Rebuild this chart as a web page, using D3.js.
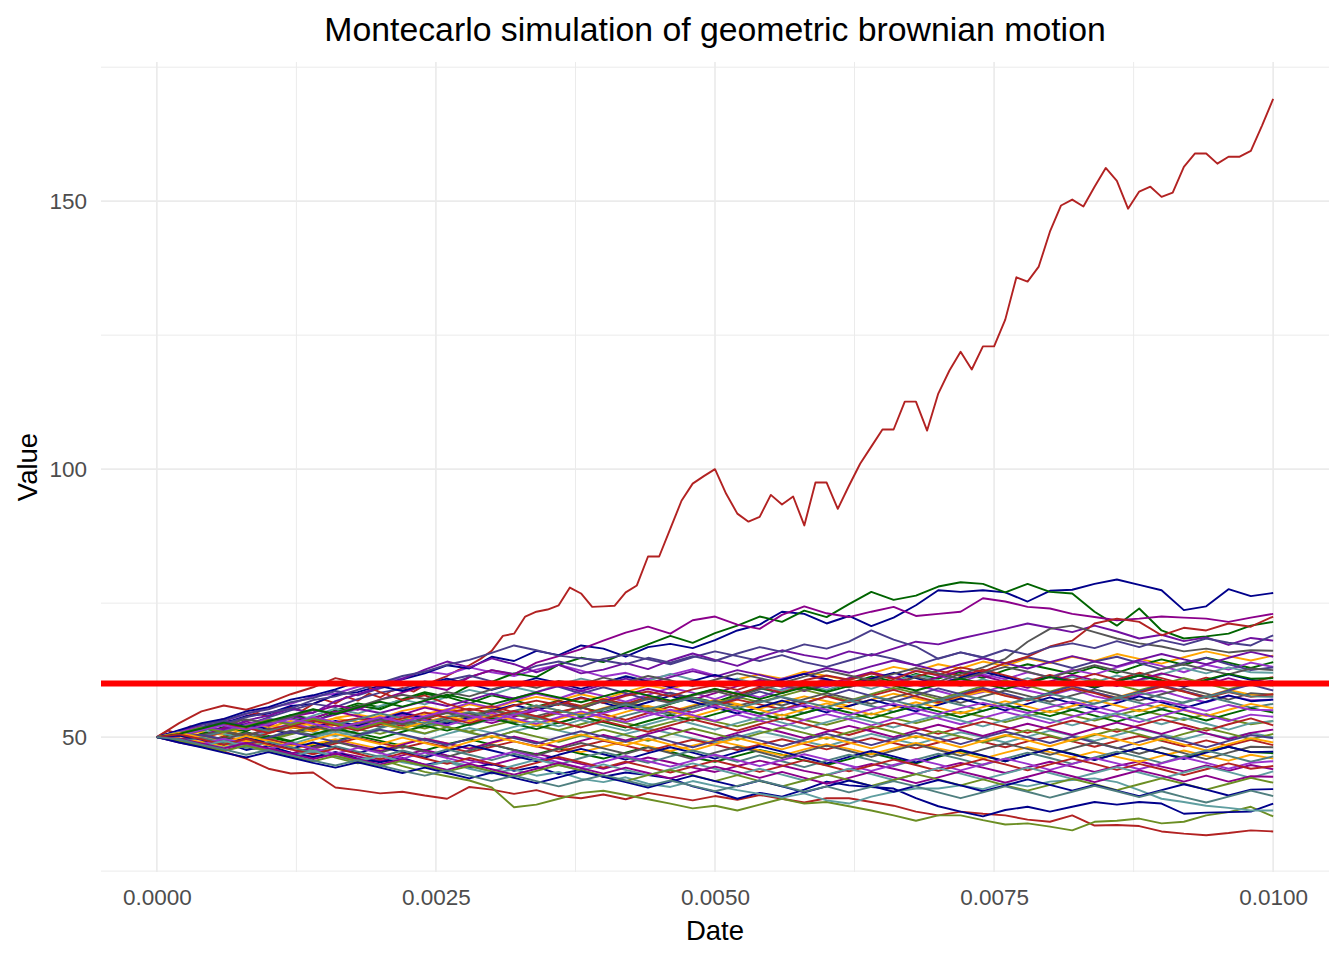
<!DOCTYPE html>
<html>
<head>
<meta charset="utf-8">
<script src="https://cdn.jsdelivr.net/npm/d3@7"></script>
<style>
  body { margin: 0; background: #fff; }
  text { font-family: "Liberation Sans", Arial, sans-serif; }
</style>
</head>
<body>
<div id="chart-area"></div>
<script>
/*
*    Montecarlo simulation of geometric brownian motion
*    one point every 0.0001 for the runaway path, every 0.0002 for the rest
*/

var outlierStep = 0.0001;
var pathStep = 0.0002;
var threshold = 60;

var xTicks = [0, 0.0025, 0.005, 0.0075, 0.01];
var xMinorTicks = [0.00125, 0.00375, 0.00625, 0.00875];
var yTicks = [50, 100, 150];
var yMinorTicks = [25, 75, 125, 175];

// the runaway path (firebrick)
var outlier = [50, 51.2, 50.6, 52.0, 51.5, 52.8, 53.4, 52.6, 53.9, 54.5,
  53.8, 55.0, 55.6, 54.9, 56.2, 57.0, 56.3, 57.5, 56.8, 58.1,
  57.4, 58.6, 59.2, 58.5, 59.7, 60.6, 61.4, 62.5, 63.4, 64.6,
  66.1, 68.9, 69.3, 72.5, 73.4, 73.8, 74.6, 77.9, 76.8, 74.3,
  74.4, 74.5, 77.0, 78.3, 83.7, 83.7, 88.9, 94.1, 97.3, 98.7,
  100.0, 95.4, 91.7, 90.2, 91.1, 95.2, 93.4, 94.9, 89.5, 97.5,
  97.5, 92.6, 96.9, 101.0, 104.2, 107.4, 107.4, 112.6, 112.6, 107.2,
  114.1, 118.4, 121.9, 118.6, 122.9, 122.9, 127.9, 135.8, 135.0, 137.8,
  144.3, 149.2, 150.3, 149.0, 152.7, 156.2, 153.8, 148.6, 151.8, 152.7,
  150.8, 151.6, 156.4, 158.9, 158.9, 157.0, 158.3, 158.3, 159.4, 164.1,
  169.1];
var outlierColor = "#B22222";

var p01 = [50, 50.9, 50.3, 51.5, 52.4, 51.8, 53.0, 52.1, 53.6, 54.2, 53.5, 54.9, 55.7, 54.8, 56.1, 55.3, 56.6, 57.5, 56.8, 58.0, 57.1, 58.4, 59.6, 58.9, 60.3, 59.5, 60.8, 61.7, 60.9, 62.2, 61.4, 60.6, 61.9, 63.1, 62.3, 63.6, 62.8, 64.1, 63.3, 64.7, 63.8, 65.0, 64.2, 65.5, 64.6, 63.7, 64.9, 66.0, 65.1, 64.3, 65.2];
var p02 = [50, 50.8, 51.9, 52.6, 53.9, 54.4, 55.8, 56.2, 57.9, 58.4, 59.6, 60.8, 61.9, 63.4, 62.8, 65.0, 64.2, 66.1, 65.3, 67.1, 66.5, 65.0, 66.8, 67.4, 66.6, 68.1, 69.9, 71.0, 73.4, 73.0, 71.2, 72.6, 70.7, 72.3, 74.6, 77.4, 77.1, 77.4, 77.0, 75.3, 77.3, 77.5, 78.6, 79.4, 78.4, 77.4, 73.7, 74.4, 77.6, 76.3, 76.9];
var p03 = [50, 49.3, 50.6, 51.9, 51.2, 52.7, 54.1, 53.4, 55.0, 56.3, 55.6, 57.1, 58.4, 57.5, 56.3, 57.8, 56.9, 55.7, 56.8, 55.5, 54.6, 55.9, 54.8, 56.2, 57.4, 56.5, 57.9, 59.1, 58.2, 59.6, 58.7, 60.0, 61.3, 60.4, 61.8, 60.9, 62.2, 61.0, 62.5, 63.6, 62.7, 61.8, 63.1, 62.0, 63.4, 64.5, 63.5, 64.8, 63.9, 62.9, 64.0];
var p04 = [50, 50.5, 49.8, 50.9, 50.1, 51.3, 52.5, 51.6, 52.9, 52.0, 53.4, 54.6, 53.7, 55.1, 56.4, 55.5, 56.8, 58.1, 57.2, 58.6, 57.7, 56.6, 57.9, 59.2, 58.3, 57.1, 58.5, 57.4, 58.9, 60.2, 59.3, 60.7, 61.9, 61.0, 62.4, 61.5, 60.3, 61.7, 60.8, 62.1, 61.2, 62.6, 61.7, 63.0, 64.2, 63.3, 62.1, 63.5, 62.6, 63.9, 63.1];
var p05 = [50, 49.7, 48.4, 47.3, 46.0, 44.1, 43.2, 43.4, 40.6, 40.1, 39.5, 39.8, 39.1, 38.5, 40.7, 40.2, 39.4, 40.1, 39.0, 38.6, 39.3, 38.4, 39.6, 38.9, 38.2, 39.0, 38.3, 39.2, 38.5, 37.8, 38.6, 38.6, 37.9, 37.2, 36.1, 35.4, 36.1, 35.7, 35.4, 34.6, 34.2, 35.4, 33.5, 33.6, 33.4, 32.4, 32.0, 31.7, 32.1, 32.6, 32.4];
var p06 = [50, 50.8, 51.7, 51.0, 52.3, 53.5, 52.6, 54.0, 55.3, 54.4, 55.8, 57.0, 56.1, 57.5, 58.8, 57.9, 59.3, 58.4, 59.8, 60.9, 60.0, 61.4, 60.5, 61.8, 60.7, 59.6, 60.9, 59.8, 58.6, 59.9, 58.8, 60.1, 59.0, 60.4, 61.6, 60.6, 59.5, 60.8, 59.7, 61.0, 60.0, 61.3, 60.2, 61.5, 60.4, 61.7, 62.9, 61.9, 63.0, 62.1, 62.0];
var p07 = [50, 49.4, 50.6, 51.8, 51.1, 52.9, 53.5, 52.8, 54.6, 55.9, 55.2, 56.8, 58.1, 57.4, 59.6, 60.3, 61.9, 61.2, 63.5, 64.8, 64.0, 65.7, 67.3, 68.9, 67.6, 69.4, 70.8, 72.5, 71.5, 73.6, 72.4, 74.8, 77.1, 75.6, 76.4, 78.1, 78.9, 78.6, 77.0, 78.6, 77.1, 76.8, 73.4, 70.8, 74.0, 69.9, 68.4, 68.8, 69.3, 70.8, 71.5];
var p08 = [50, 49.6, 48.9, 50.1, 49.4, 50.7, 51.9, 51.1, 52.4, 51.6, 52.9, 52.1, 53.4, 54.6, 53.7, 55.0, 54.2, 55.5, 56.7, 55.8, 57.1, 56.2, 57.5, 56.5, 57.8, 59.0, 58.0, 59.3, 58.3, 59.6, 60.8, 59.8, 61.0, 60.0, 61.3, 62.4, 61.4, 62.6, 61.5, 60.4, 61.6, 60.6, 61.8, 60.7, 62.0, 61.0, 59.9, 61.1, 60.1, 60.3, 61.2];
var p09 = [50, 50.4, 51.6, 52.8, 52.0, 51.1, 52.3, 53.6, 54.8, 53.9, 53.0, 54.2, 55.5, 54.6, 53.5, 52.6, 53.8, 55.0, 56.3, 55.4, 56.7, 57.9, 59.0, 58.1, 57.0, 58.2, 59.5, 60.7, 59.7, 58.6, 59.8, 61.0, 62.1, 61.1, 60.0, 61.2, 62.4, 61.4, 60.3, 59.2, 60.4, 61.6, 60.6, 59.5, 60.7, 61.9, 60.9, 59.8, 61.0, 59.9, 60.5];
var p10 = [50, 49.2, 48.6, 49.3, 48.1, 47.4, 46.8, 47.5, 46.2, 45.1, 45.8, 44.6, 43.5, 42.7, 41.9, 40.6, 36.9, 37.4, 38.5, 39.6, 40.0, 39.2, 38.4, 37.6, 36.7, 37.2, 36.3, 37.4, 38.5, 37.6, 37.9, 37.1, 36.3, 35.4, 34.4, 35.4, 35.4, 34.5, 33.7, 33.9, 33.3, 32.6, 34.2, 34.4, 34.8, 33.9, 34.2, 35.4, 36.0, 37.0, 35.2];
var p11 = [50, 49.2, 49.9, 51.0, 50.3, 49.5, 50.7, 51.8, 51.0, 52.2, 53.3, 52.5, 51.6, 52.8, 54.0, 55.1, 54.2, 53.3, 54.5, 55.7, 56.8, 55.9, 57.1, 58.2, 57.3, 56.3, 57.5, 56.5, 57.7, 58.8, 57.8, 56.8, 58.0, 59.2, 58.2, 57.1, 58.3, 59.5, 60.6, 59.6, 58.5, 59.7, 60.8, 59.8, 58.7, 59.9, 61.0, 60.0, 58.9, 60.1, 59.6];
var p12 = [50, 50.9, 50.2, 51.7, 52.9, 52.1, 53.8, 54.6, 55.9, 55.1, 57.0, 58.3, 59.6, 58.8, 61.2, 62.5, 61.7, 63.9, 65.1, 66.4, 68.0, 69.5, 70.6, 69.3, 71.8, 72.5, 71.0, 70.2, 72.8, 74.4, 73.1, 72.4, 73.4, 74.3, 72.6, 73.0, 73.4, 75.9, 75.3, 74.3, 74.0, 73.0, 72.4, 71.8, 72.1, 72.5, 72.3, 72.1, 71.5, 72.3, 73.0];
var p13 = [50, 51.0, 52.3, 53.1, 54.4, 55.2, 56.5, 57.3, 58.6, 57.8, 59.1, 60.2, 59.3, 60.6, 61.5, 60.4, 59.2, 60.5, 59.4, 58.1, 59.3, 58.2, 57.0, 58.3, 57.2, 56.0, 57.2, 58.5, 57.4, 56.3, 57.6, 58.8, 57.7, 56.6, 57.8, 59.1, 58.0, 59.2, 58.1, 57.0, 58.3, 59.5, 58.4, 57.3, 58.5, 59.7, 58.6, 57.5, 58.7, 59.8, 58.7];
var p14 = [50, 49.5, 50.3, 49.6, 50.8, 50.0, 51.2, 50.4, 51.6, 52.7, 51.9, 53.0, 52.2, 53.4, 54.5, 53.6, 52.7, 53.9, 55.0, 54.1, 55.3, 56.4, 55.5, 54.5, 55.7, 56.8, 55.8, 56.9, 55.9, 57.1, 58.2, 57.2, 56.2, 57.4, 58.5, 57.5, 56.4, 57.6, 58.7, 57.7, 56.6, 57.8, 58.9, 57.9, 56.8, 58.0, 59.1, 58.1, 57.0, 58.2, 57.9];
var p15 = [50, 49.1, 48.3, 49.0, 47.6, 48.4, 47.1, 46.3, 47.2, 46.0, 45.3, 46.1, 44.8, 45.6, 44.2, 45.0, 43.7, 44.5, 43.1, 43.9, 42.6, 43.4, 42.9, 42.3, 40.8, 39.8, 38.5, 39.6, 38.9, 40.2, 41.7, 41.0, 40.7, 40.4, 38.6, 37.1, 36.1, 35.2, 36.4, 37.0, 36.1, 37.0, 37.9, 37.4, 37.9, 37.6, 35.7, 35.9, 36.0, 36.1, 37.6];
var p16 = [50, 50.7, 49.9, 51.2, 52.4, 51.5, 50.6, 51.8, 53.0, 52.1, 53.3, 54.5, 53.5, 52.5, 53.7, 54.9, 56.0, 55.0, 56.2, 57.4, 56.4, 55.3, 56.5, 57.7, 56.6, 55.5, 54.4, 55.6, 56.8, 55.7, 54.6, 55.8, 57.0, 55.9, 54.8, 56.0, 57.2, 56.1, 55.0, 56.2, 57.4, 56.3, 55.2, 56.4, 57.6, 56.5, 55.4, 56.6, 57.8, 56.7, 57.0];
var p17 = [50, 51.2, 52.0, 51.3, 53.1, 54.0, 55.3, 54.5, 56.7, 58.0, 59.3, 60.8, 62.6, 64.1, 63.0, 64.7, 63.6, 62.1, 63.5, 61.9, 62.6, 63.8, 62.7, 64.3, 65.6, 64.4, 63.3, 64.9, 66.2, 65.3, 64.6, 66.0, 65.2, 66.5, 67.8, 67.3, 68.4, 69.3, 70.2, 71.2, 70.4, 69.6, 70.8, 69.7, 68.4, 69.1, 67.9, 68.6, 67.2, 68.5, 68.0];
var p18 = [50, 49.1, 48.4, 49.5, 48.7, 49.9, 51.0, 50.2, 51.4, 50.5, 51.7, 52.8, 52.0, 53.1, 52.2, 53.4, 54.5, 53.6, 52.6, 53.8, 52.8, 54.0, 55.1, 54.1, 55.3, 56.4, 55.4, 54.4, 55.6, 54.5, 55.7, 56.8, 55.8, 54.7, 55.9, 57.0, 56.0, 54.9, 56.1, 57.2, 56.2, 55.1, 56.3, 57.4, 56.4, 55.3, 56.5, 57.6, 56.6, 55.5, 56.2];
var p19 = [50, 50.6, 49.8, 50.9, 51.8, 50.9, 52.0, 51.1, 52.3, 53.4, 52.5, 51.6, 52.8, 53.9, 53.0, 54.2, 53.2, 52.2, 53.4, 54.5, 53.5, 54.7, 55.8, 54.8, 53.8, 55.0, 56.1, 55.1, 54.0, 55.2, 56.3, 55.3, 54.2, 55.4, 56.5, 55.5, 54.4, 55.6, 56.7, 55.7, 54.6, 55.8, 56.9, 55.9, 54.8, 56.0, 55.0, 53.9, 55.1, 56.2, 55.4];
var p20 = [50, 49.6, 48.9, 48.1, 48.8, 47.5, 46.9, 47.7, 46.4, 45.8, 46.6, 45.3, 44.6, 45.4, 44.1, 43.2, 44.0, 42.8, 43.5, 42.2, 41.6, 42.5, 41.3, 40.7, 41.8, 40.9, 40.1, 39.4, 38.7, 39.5, 38.2, 37.6, 38.9, 39.8, 40.4, 40.4, 41.0, 40.3, 41.5, 40.8, 41.7, 42.0, 42.3, 41.6, 40.1, 38.5, 37.9, 37.2, 36.8, 36.3, 36.3];
var p21 = [50, 49.4, 48.6, 49.8, 49.0, 50.2, 49.3, 50.5, 51.6, 50.7, 49.8, 51.0, 52.1, 51.2, 52.4, 53.5, 52.5, 51.5, 52.7, 53.8, 52.8, 51.8, 53.0, 54.1, 53.1, 54.3, 55.4, 54.4, 53.3, 54.5, 55.6, 54.6, 53.5, 54.7, 55.8, 54.8, 53.7, 54.9, 56.0, 55.0, 53.9, 55.1, 54.0, 52.9, 54.1, 55.2, 54.2, 53.1, 54.3, 55.4, 54.6];
var p22 = [50, 50.6, 49.8, 51.0, 50.3, 51.5, 52.2, 51.4, 52.8, 53.5, 52.7, 54.0, 53.2, 54.6, 55.3, 54.5, 55.9, 56.8, 56.0, 57.3, 56.4, 57.7, 58.5, 57.6, 58.9, 59.7, 58.8, 60.2, 59.4, 60.6, 61.5, 60.7, 61.9, 60.8, 62.3, 61.6, 63.0, 62.2, 63.8, 65.0, 66.9, 68.0, 71.2, 72.1, 71.5, 69.0, 70.4, 69.9, 71.2, 70.6, 72.5];
var p23 = [50, 50.9, 51.9, 51.1, 52.3, 53.4, 52.5, 53.7, 52.8, 51.8, 53.0, 54.1, 53.2, 52.2, 53.4, 54.5, 53.5, 52.5, 53.7, 54.8, 53.8, 52.8, 54.0, 55.1, 54.1, 53.0, 54.2, 53.1, 52.0, 53.2, 54.3, 53.3, 52.2, 53.4, 54.5, 53.5, 52.4, 53.6, 54.7, 53.7, 52.6, 53.8, 54.9, 53.9, 52.8, 54.0, 55.1, 54.1, 53.0, 54.2, 53.8];
var p24 = [50, 49.2, 50.1, 49.3, 48.4, 49.6, 48.7, 49.9, 51.0, 50.1, 51.3, 50.4, 49.4, 50.6, 51.7, 50.8, 51.9, 53.0, 52.0, 53.2, 52.2, 51.2, 52.4, 53.5, 52.5, 51.4, 52.6, 53.7, 52.7, 51.6, 52.8, 53.9, 52.9, 51.8, 53.0, 54.1, 53.1, 52.0, 53.2, 54.3, 53.3, 52.2, 53.4, 54.5, 53.5, 52.4, 53.6, 52.5, 51.4, 52.6, 53.0];
var p25 = [50, 49.5, 50.4, 51.1, 50.2, 51.6, 50.8, 52.0, 51.2, 52.5, 53.3, 52.4, 53.6, 54.5, 53.7, 55.0, 54.1, 55.4, 56.2, 55.3, 56.8, 55.9, 57.2, 56.4, 57.8, 58.6, 57.5, 58.9, 59.8, 58.7, 60.1, 59.3, 60.6, 59.7, 61.2, 60.3, 61.8, 63.0, 64.6, 67.8, 70.2, 70.8, 69.6, 68.4, 67.5, 66.9, 66.0, 66.5, 65.8, 66.2, 66.1];
var p26 = [50, 50.4, 51.5, 52.6, 51.7, 50.8, 52.0, 53.1, 52.2, 51.2, 52.4, 53.5, 54.6, 53.6, 52.6, 53.8, 54.9, 53.9, 52.8, 51.8, 53.0, 52.0, 51.0, 52.2, 53.3, 52.3, 51.2, 52.4, 53.5, 52.5, 51.4, 50.4, 51.6, 52.7, 51.7, 50.6, 51.8, 52.9, 51.9, 50.8, 52.0, 53.1, 52.1, 51.0, 52.2, 53.3, 52.3, 51.2, 52.4, 53.5, 52.2];
var p27 = [50, 49.0, 48.2, 47.5, 48.6, 47.8, 46.9, 48.1, 49.2, 48.3, 47.4, 48.6, 49.7, 48.8, 47.8, 49.0, 50.1, 49.1, 48.1, 49.3, 50.4, 49.4, 50.6, 51.7, 50.7, 49.6, 50.8, 51.9, 50.9, 49.8, 51.0, 52.1, 51.1, 50.0, 51.2, 52.3, 51.3, 50.2, 51.4, 52.5, 51.5, 50.4, 51.6, 52.7, 51.7, 50.6, 51.8, 50.7, 49.6, 50.8, 51.4];
var p28 = [50, 50.7, 51.8, 52.5, 53.7, 54.6, 55.3, 56.9, 57.6, 58.8, 60.1, 61.4, 62.2, 63.5, 64.4, 65.7, 67.1, 66.2, 65.2, 64.7, 64.3, 63.6, 64.8, 63.9, 65.1, 64.2, 65.6, 66.8, 65.9, 67.3, 66.5, 67.8, 69.9, 68.2, 66.9, 64.6, 65.8, 64.9, 66.3, 65.4, 66.8, 67.5, 66.6, 67.9, 66.8, 68.1, 67.2, 68.4, 67.6, 67.1, 69.0];
var p29 = [50, 50.7, 51.8, 50.9, 52.0, 53.2, 52.3, 53.4, 52.5, 51.5, 52.7, 51.7, 50.7, 51.9, 50.9, 49.9, 51.1, 50.1, 49.1, 50.3, 51.4, 50.4, 49.3, 50.5, 51.6, 50.6, 49.5, 50.7, 51.8, 50.8, 49.7, 50.9, 52.0, 51.0, 49.9, 51.1, 50.1, 49.0, 50.2, 51.3, 50.3, 49.2, 50.4, 51.5, 50.5, 49.4, 50.6, 51.7, 50.7, 49.6, 50.6];
var p30 = [50, 49.3, 50.4, 49.6, 48.7, 49.9, 51.0, 50.1, 49.1, 50.3, 51.4, 50.5, 49.5, 48.5, 49.7, 50.8, 49.8, 48.8, 50.0, 51.1, 50.1, 49.1, 50.3, 49.2, 48.1, 49.3, 50.4, 49.4, 48.3, 49.5, 50.6, 49.6, 48.5, 49.7, 50.8, 49.8, 48.7, 49.9, 51.0, 50.0, 48.9, 50.1, 49.0, 47.9, 49.1, 50.2, 49.2, 48.1, 49.3, 50.4, 49.8];
var p31 = [50, 50.8, 49.9, 49.0, 50.2, 49.3, 48.3, 49.5, 50.6, 49.7, 48.7, 49.9, 48.9, 47.9, 49.1, 50.2, 49.2, 48.2, 49.4, 50.5, 49.5, 48.5, 49.7, 48.6, 47.5, 48.7, 49.8, 48.8, 47.7, 48.9, 50.0, 49.0, 47.9, 49.1, 50.2, 49.2, 48.1, 49.3, 50.4, 49.4, 48.3, 49.5, 50.6, 49.6, 48.5, 49.7, 48.6, 47.5, 48.7, 49.8, 49.0];
var p32 = [50, 49.4, 48.5, 49.6, 48.7, 47.7, 48.9, 47.9, 49.1, 48.1, 47.1, 48.3, 47.3, 46.3, 47.5, 48.6, 47.6, 46.6, 47.8, 48.9, 47.9, 46.9, 48.1, 47.0, 45.9, 47.1, 48.2, 47.2, 46.1, 47.3, 48.4, 47.4, 46.3, 47.5, 48.6, 47.6, 46.5, 47.7, 48.8, 47.8, 46.7, 47.9, 49.0, 48.0, 46.9, 48.1, 47.0, 45.9, 47.1, 48.2, 48.1];
var p33 = [50, 50.3, 49.5, 48.6, 49.8, 48.8, 47.8, 49.0, 48.0, 47.0, 48.2, 47.2, 46.2, 47.4, 48.5, 47.5, 46.5, 45.5, 46.7, 47.8, 46.8, 45.8, 47.0, 48.1, 47.1, 46.0, 47.2, 48.3, 47.3, 46.2, 45.1, 46.3, 47.4, 46.4, 45.3, 46.5, 47.6, 46.6, 45.5, 46.7, 47.8, 46.8, 45.7, 46.9, 48.0, 47.0, 45.9, 47.1, 48.2, 47.2, 47.3];
var p34 = [50, 49.1, 49.9, 48.9, 48.0, 49.1, 48.1, 47.1, 48.3, 47.3, 46.3, 47.5, 46.5, 47.7, 46.7, 45.7, 46.9, 45.9, 44.9, 46.1, 47.2, 46.2, 45.2, 46.4, 47.5, 46.5, 45.4, 46.6, 45.5, 44.4, 45.6, 46.7, 45.7, 44.6, 45.8, 46.9, 45.9, 44.8, 46.0, 47.1, 46.1, 45.0, 46.2, 47.3, 46.3, 45.2, 46.4, 47.5, 46.5, 45.4, 46.4];
var p35 = [50, 49.5, 48.7, 49.7, 48.8, 47.8, 48.9, 47.9, 46.9, 48.0, 47.0, 46.0, 47.1, 46.1, 45.1, 46.2, 47.3, 46.3, 45.3, 44.3, 45.4, 46.5, 45.5, 44.5, 45.6, 46.7, 45.7, 44.6, 45.7, 46.8, 45.8, 44.7, 43.7, 44.8, 45.9, 44.9, 43.8, 44.9, 46.0, 45.0, 43.9, 45.0, 46.1, 45.1, 44.0, 45.1, 46.2, 45.2, 44.1, 45.2, 45.5];
var p36 = [50, 50.5, 49.6, 48.6, 49.7, 48.7, 47.7, 46.8, 47.9, 46.9, 45.9, 47.0, 46.0, 45.0, 46.1, 45.1, 44.1, 45.2, 46.3, 45.3, 44.3, 45.4, 44.4, 43.4, 44.5, 45.6, 44.6, 43.5, 44.6, 45.7, 44.7, 43.6, 44.7, 45.8, 44.8, 43.7, 44.8, 45.9, 44.9, 43.8, 44.9, 46.0, 45.0, 43.9, 45.0, 44.0, 42.9, 44.0, 45.1, 44.1, 44.6];
var p37 = [50, 49.2, 48.3, 49.3, 48.3, 47.3, 46.4, 47.4, 46.4, 45.4, 46.5, 45.5, 44.5, 45.6, 44.6, 43.6, 44.7, 45.8, 44.8, 43.8, 44.9, 43.9, 42.9, 44.0, 45.1, 44.1, 43.0, 44.1, 43.0, 41.9, 43.0, 44.1, 43.1, 42.0, 43.1, 44.2, 43.2, 42.1, 43.2, 44.3, 43.3, 42.2, 43.3, 44.4, 43.4, 42.3, 43.4, 44.5, 43.5, 42.4, 43.6];
var p38 = [50, 49.7, 48.8, 47.9, 48.9, 47.9, 46.9, 45.9, 46.9, 45.9, 44.9, 45.9, 44.9, 43.9, 45.0, 44.0, 43.0, 44.1, 45.2, 44.2, 43.2, 44.3, 43.3, 42.3, 43.4, 44.5, 43.5, 42.4, 43.5, 42.4, 41.3, 42.4, 43.5, 42.5, 41.4, 42.5, 43.6, 42.6, 41.5, 42.6, 43.7, 42.7, 41.6, 42.7, 43.8, 42.8, 41.7, 42.8, 41.7, 42.7, 42.6];
var p39 = [50, 49.3, 48.3, 47.4, 48.4, 47.4, 46.4, 45.5, 46.5, 45.5, 44.6, 45.6, 44.6, 43.6, 44.6, 43.6, 42.6, 43.7, 44.8, 43.8, 42.8, 41.8, 42.9, 43.9, 42.9, 41.8, 42.9, 41.8, 40.8, 41.9, 43.0, 42.0, 40.9, 42.0, 43.1, 42.1, 41.0, 42.1, 41.0, 40.0, 41.1, 42.2, 41.2, 40.1, 41.2, 42.3, 41.3, 40.2, 41.3, 42.4, 41.5];
var p40 = [50, 49.0, 48.1, 47.1, 46.2, 47.2, 46.2, 45.2, 44.3, 45.3, 44.3, 43.3, 44.3, 43.3, 42.3, 43.4, 42.4, 41.4, 42.5, 43.6, 42.6, 41.6, 40.6, 41.7, 42.8, 41.8, 40.8, 41.9, 40.8, 39.7, 40.8, 41.9, 40.9, 39.8, 40.9, 42.0, 41.0, 39.9, 41.0, 42.1, 41.1, 40.0, 41.1, 40.0, 39.0, 40.1, 41.2, 40.2, 39.1, 40.2, 40.3];
var p41 = [50, 49.6, 48.6, 47.7, 46.7, 47.6, 46.6, 45.6, 44.7, 45.7, 44.7, 43.7, 42.8, 43.8, 42.8, 41.8, 42.8, 41.8, 40.8, 41.9, 42.9, 41.9, 40.9, 41.9, 40.9, 39.9, 40.9, 41.9, 40.9, 39.8, 40.8, 39.7, 40.7, 41.8, 40.8, 39.7, 38.6, 39.7, 40.8, 39.8, 38.7, 39.8, 40.9, 39.9, 38.8, 39.9, 38.8, 37.8, 38.9, 40.0, 39.0];
var p42 = [50, 51.1, 52.4, 53.0, 54.3, 55.5, 56.2, 57.6, 58.1, 59.4, 60.2, 61.0, 62.3, 61.7, 63.0, 62.1, 61.4, 62.6, 63.5, 62.4, 61.3, 62.0, 60.8, 61.6, 62.7, 61.5, 60.4, 59.6, 60.9, 61.8, 60.5, 59.4, 60.2, 58.9, 59.8, 58.6, 57.5, 58.4, 59.6, 58.7, 57.8, 58.9, 57.6, 56.8, 57.9, 58.6, 57.4, 56.5, 57.7, 56.9, 57.0];
var p43 = [50, 50.6, 51.8, 52.9, 52.3, 53.7, 55.0, 56.2, 55.6, 57.1, 58.3, 59.0, 60.4, 59.7, 61.2, 62.5, 61.8, 63.3, 64.1, 63.2, 64.6, 65.4, 64.5, 63.6, 64.9, 66.0, 65.1, 64.2, 65.3, 64.0, 63.1, 64.3, 65.5, 64.6, 63.4, 64.7, 65.8, 64.8, 63.7, 64.9, 64.0, 62.9, 64.1, 65.0, 63.8, 62.7, 63.9, 64.8, 63.6, 62.5, 63.0];
var p44 = [50, 52.6, 54.8, 55.9, 55.1, 56.4, 58.0, 59.3, 61.0, 60.1, 58.4, 56.9, 57.8, 56.2, 55.0, 55.8, 54.6, 53.5, 54.7, 55.6, 54.3, 53.2, 54.5, 55.7, 54.6, 55.9, 57.0, 56.1, 55.2, 56.4, 57.6, 56.5, 57.7, 58.8, 57.6, 56.5, 57.8, 58.9, 57.7, 56.8, 58.0, 59.1, 58.2, 57.0, 58.3, 59.4, 58.5, 57.3, 58.4, 57.5, 58.0];
var p45 = [50, 50.3, 51.2, 52.4, 53.3, 52.6, 53.8, 55.1, 54.4, 55.7, 57.0, 57.9, 57.1, 58.4, 57.6, 58.9, 60.1, 59.2, 60.5, 59.8, 61.1, 60.2, 61.4, 60.6, 59.5, 60.7, 61.9, 61.0, 60.1, 61.3, 62.4, 61.5, 60.6, 61.8, 62.9, 61.9, 60.8, 62.0, 63.1, 62.2, 61.1, 62.3, 63.4, 62.4, 61.5, 62.7, 63.6, 62.6, 61.7, 62.8, 62.5];
var p46 = [50, 50.2, 51.0, 50.4, 51.5, 52.3, 51.6, 52.7, 53.5, 52.8, 54.0, 53.1, 54.3, 55.2, 54.4, 53.6, 54.8, 55.9, 55.0, 54.2, 55.4, 56.5, 55.7, 54.8, 55.9, 57.0, 56.2, 55.3, 56.5, 57.6, 56.7, 55.8, 57.0, 58.1, 57.2, 56.3, 57.5, 58.6, 57.8, 56.9, 58.1, 59.2, 58.3, 57.4, 58.6, 59.5, 58.5, 57.6, 58.8, 57.9, 58.0];
var p47 = [50, 49.7, 49.0, 50.1, 50.9, 50.0, 49.1, 48.3, 49.4, 50.2, 49.3, 48.4, 47.5, 48.7, 49.6, 48.6, 47.6, 46.8, 47.9, 46.9, 46.0, 47.1, 48.2, 47.3, 46.2, 45.4, 46.5, 47.6, 46.7, 45.6, 44.8, 45.9, 47.0, 46.0, 45.1, 46.3, 47.4, 46.5, 45.5, 46.7, 47.8, 46.9, 45.8, 46.9, 48.0, 47.0, 46.1, 47.3, 48.2, 47.2, 47.0];
var p48 = [50, 50.5, 51.3, 50.6, 49.8, 50.9, 51.9, 51.0, 50.2, 51.3, 52.4, 51.5, 50.6, 51.8, 50.8, 49.9, 51.1, 52.1, 51.2, 50.3, 49.4, 50.6, 51.6, 50.7, 49.7, 48.9, 50.0, 51.1, 50.2, 49.2, 48.3, 49.5, 50.6, 49.6, 48.7, 49.8, 50.9, 50.0, 49.0, 50.1, 51.2, 50.3, 49.3, 50.4, 51.5, 50.5, 49.6, 50.7, 49.8, 50.8, 50.0];
var p49 = [50, 49.5, 48.8, 48.0, 48.9, 47.9, 47.1, 46.2, 47.2, 46.4, 45.5, 46.6, 47.6, 46.6, 45.7, 44.8, 45.9, 46.9, 46.0, 45.0, 44.1, 45.2, 46.2, 45.3, 44.3, 43.5, 44.6, 45.6, 44.7, 43.7, 42.9, 44.0, 45.0, 44.1, 43.1, 44.2, 45.2, 44.3, 43.3, 44.4, 45.4, 44.5, 43.5, 44.6, 45.5, 44.5, 43.6, 44.7, 43.7, 44.8, 44.0];
var p50 = [50, 50.6, 51.5, 52.5, 51.8, 52.9, 53.9, 53.1, 54.2, 55.3, 54.5, 55.6, 56.7, 55.8, 56.9, 58.1, 57.2, 58.4, 59.5, 58.6, 59.8, 60.9, 60.0, 61.2, 62.3, 61.3, 62.5, 61.6, 60.6, 61.8, 62.9, 62.0, 63.2, 64.3, 63.4, 62.4, 63.6, 64.7, 63.8, 62.8, 64.0, 65.1, 64.1, 63.2, 64.4, 65.5, 64.5, 63.6, 64.8, 65.9, 65.0];
var p51 = [50, 49.4, 50.2, 51.1, 50.3, 49.4, 50.5, 51.5, 52.4, 51.5, 50.6, 51.7, 52.8, 51.9, 51.0, 52.1, 53.1, 52.2, 51.3, 52.4, 53.5, 52.6, 51.7, 52.8, 53.8, 52.9, 52.0, 53.1, 54.2, 53.2, 52.3, 53.4, 54.4, 53.5, 52.6, 53.7, 54.7, 53.8, 52.8, 53.9, 54.9, 54.0, 53.1, 54.1, 55.1, 54.1, 53.2, 54.3, 53.3, 52.4, 53.0];
var p52 = [50, 51.3, 52.6, 53.4, 54.8, 55.6, 57.0, 57.8, 58.9, 60.3, 59.5, 58.6, 59.8, 60.9, 59.9, 58.8, 59.9, 61.0, 60.1, 59.0, 60.2, 61.3, 60.4, 59.3, 60.5, 61.6, 60.6, 59.5, 60.7, 61.8, 60.8, 59.7, 60.9, 62.0, 61.0, 59.9, 61.1, 62.2, 61.2, 60.1, 61.3, 60.3, 59.2, 60.4, 61.5, 60.5, 59.4, 60.6, 61.7, 60.7, 60.0];
var p53 = [50, 49.8, 49.1, 48.4, 49.3, 48.5, 47.7, 48.7, 49.6, 48.7, 47.8, 48.8, 49.7, 48.8, 47.9, 48.9, 49.9, 49.0, 48.1, 47.2, 48.2, 49.2, 48.3, 47.4, 48.4, 49.4, 48.5, 47.5, 46.6, 47.7, 48.7, 47.8, 46.8, 47.9, 48.9, 47.9, 47.0, 46.0, 47.1, 48.1, 47.2, 46.2, 47.3, 46.3, 45.4, 46.5, 47.5, 46.5, 45.6, 46.7, 46.0];
var p54 = [50, 50.9, 50.1, 51.0, 52.0, 51.1, 52.1, 53.2, 52.3, 53.3, 54.4, 53.5, 52.6, 53.7, 54.7, 53.8, 54.9, 55.9, 55.0, 54.0, 55.1, 56.1, 55.2, 56.3, 57.3, 56.4, 55.4, 56.5, 57.5, 56.6, 55.6, 56.7, 57.7, 56.8, 55.8, 56.9, 57.9, 57.0, 56.0, 57.1, 58.1, 57.2, 56.2, 57.3, 58.3, 57.4, 56.4, 57.5, 58.5, 57.6, 57.5];
var p55 = [50, 49.6, 50.4, 49.5, 48.6, 49.6, 48.7, 47.8, 48.8, 49.8, 48.9, 48.0, 49.0, 48.1, 47.2, 48.2, 49.2, 48.3, 47.3, 48.3, 49.3, 48.4, 47.4, 48.5, 49.5, 48.6, 47.6, 48.6, 49.6, 48.7, 47.7, 48.8, 49.8, 48.9, 47.9, 49.0, 50.0, 49.1, 48.1, 49.2, 50.1, 49.2, 48.2, 49.3, 50.2, 49.3, 48.3, 49.4, 48.4, 49.5, 48.5];
var p56 = [50, 50.3, 51.3, 52.2, 51.4, 52.4, 53.4, 52.5, 51.6, 52.6, 53.7, 52.8, 53.9, 54.9, 54.0, 53.1, 54.2, 55.2, 54.3, 53.4, 54.5, 55.5, 54.6, 53.6, 54.7, 55.8, 54.9, 53.9, 55.0, 56.0, 55.1, 54.1, 55.2, 56.2, 55.3, 54.3, 55.4, 56.4, 55.5, 54.5, 55.6, 56.6, 55.7, 54.7, 55.8, 56.8, 55.9, 54.9, 56.0, 55.1, 55.0];
var p57 = [50, 50.6, 51.6, 52.7, 51.9, 53.0, 54.1, 55.2, 54.3, 55.5, 56.6, 55.7, 56.8, 57.9, 57.0, 56.1, 57.2, 58.3, 57.4, 56.5, 57.6, 58.7, 57.8, 56.8, 57.9, 59.0, 58.1, 57.1, 58.2, 59.3, 58.4, 59.5, 60.6, 59.6, 58.7, 59.8, 60.9, 60.0, 59.0, 60.1, 61.2, 60.3, 59.3, 60.4, 61.5, 60.6, 59.6, 60.7, 61.8, 60.9, 61.0];

var paths = [p01, p42, p02, p03, p46, p04, p05, p47, p06, p07,
  p48, p08, p09, p43, p10, p11, p49, p12, p13, p50,
  p14, p15, p44, p16, p17, p51, p18, p19, p52, p20,
  p21, p53, p22, p23, p45, p24, p25, p54, p26, p27,
  p55, p28, p29, p56, p30, p31, p57, p32, p33, p34,
  p35, p36, p37, p38, p39, p40, p41];

var pathColors = ["#FFA500", "#9932CC", "#00008B", "#006400", "#FFA500", "#9932CC", "#B22222", "#006400", "#5F9EA0", "#006400",
  "#5F9EA0", "#B22222", "#8B008B", "#483D8B", "#6B8E23", "#6B8E23", "#8B008B", "#8B008B", "#483D8B", "#7010A0",
  "#555555", "#00008B", "#B22222", "#00008B", "#7010A0", "#6B8E23", "#4F7F7F", "#FFA500", "#00008B", "#5F9EA0",
  "#006400", "#FFA500", "#B22222", "#9932CC", "#555555", "#5F9EA0", "#555555", "#4F7F7F", "#B22222", "#8B008B",
  "#B22222", "#483D8B", "#6B8E23", "#9932CC", "#483D8B", "#FFA500", "#006400", "#555555", "#00008B", "#4F7F7F",
  "#9932CC", "#B22222", "#5F9EA0", "#8B008B", "#6B8E23", "#00008B", "#4F7F7F"];

var margin = { left: 101, right: 15, top: 62, bottom: 88 };
var width = 1344 - margin.left - margin.right,
    height = 960 - margin.top - margin.bottom;

var svg = d3.select("#chart-area")
    .append("svg")
        .attr("width", 1344)
        .attr("height", 960);

var g = svg.append("g")
    .attr("transform", "translate(" + margin.left + ", " + margin.top + ")");

// Scales (ggplot style 5% expansion)
var x = d3.scaleLinear()
    .domain([-0.0005, 0.0105])
    .range([0, width]);

var allValues = d3.merge(paths.concat([outlier]));
var yMin = d3.min(allValues), yMax = d3.max(allValues);
var yPad = (yMax - yMin) * 0.05;
var y = d3.scaleLinear()
    .domain([yMin - yPad, yMax + yPad])
    .range([height, 0]);

// Grid
var grid = g.append("g").attr("class", "grid");
grid.selectAll(".xminor").data(xMinorTicks).enter().append("line")
    .attr("x1", function(d){ return x(d); }).attr("x2", function(d){ return x(d); })
    .attr("y1", 0).attr("y2", height)
    .attr("stroke", "#EBEBEB").attr("stroke-width", 1);
grid.selectAll(".yminor").data(yMinorTicks.filter(function(d){ return d >= y.domain()[0] - 0.5 && d <= y.domain()[1] + 0.5; }))
    .enter().append("line")
    .attr("x1", 0).attr("x2", width)
    .attr("y1", function(d){ return y(d); }).attr("y2", function(d){ return y(d); })
    .attr("stroke", "#EBEBEB").attr("stroke-width", 1);
grid.selectAll(".xmajor").data(xTicks).enter().append("line")
    .attr("x1", function(d){ return x(d); }).attr("x2", function(d){ return x(d); })
    .attr("y1", 0).attr("y2", height)
    .attr("stroke", "#EBEBEB").attr("stroke-width", 1.7);
grid.selectAll(".ymajor").data(yTicks).enter().append("line")
    .attr("x1", 0).attr("x2", width)
    .attr("y1", function(d){ return y(d); }).attr("y2", function(d){ return y(d); })
    .attr("stroke", "#EBEBEB").attr("stroke-width", 1.7);

// Paths
var outlierLine = d3.line()
    .x(function(d, i){ return x(i * outlierStep); })
    .y(function(d){ return y(d); });

var pathLine = d3.line()
    .x(function(d, i){ return x(i * pathStep); })
    .y(function(d){ return y(d); });

g.append("path")
    .datum(outlier)
    .attr("d", outlierLine)
    .attr("fill", "none")
    .attr("stroke", outlierColor)
    .attr("stroke-width", 1.9)
    .attr("stroke-linejoin", "round");

g.selectAll(".sim")
    .data(paths)
    .enter().append("path")
        .attr("class", "sim")
        .attr("d", pathLine)
        .attr("fill", "none")
        .attr("stroke", function(d, i){ return pathColors[i]; })
        .attr("stroke-width", 1.9)
        .attr("stroke-linejoin", "round");

// Threshold line
g.append("line")
    .attr("x1", 0).attr("x2", width)
    .attr("y1", y(threshold)).attr("y2", y(threshold))
    .attr("stroke", "#FF0000")
    .attr("stroke-width", 6);

// Axes
var xAxisCall = d3.axisBottom(x)
    .tickValues(xTicks)
    .tickSize(0)
    .tickPadding(17)
    .tickFormat(d3.format(".4f"));

var yAxisCall = d3.axisLeft(y)
    .tickValues(yTicks)
    .tickSize(0)
    .tickPadding(14);

var xAxisGroup = g.append("g")
    .attr("transform", "translate(0," + height + ")")
    .call(xAxisCall);
var yAxisGroup = g.append("g")
    .call(yAxisCall);

[xAxisGroup, yAxisGroup].forEach(function(ax){
    ax.select(".domain").remove();
    ax.selectAll("text")
        .attr("fill", "#4D4D4D")
        .style("font-size", "22.5px")
        .style("font-family", "'Liberation Sans', Arial, sans-serif");
});

// Title
svg.append("text")
    .attr("x", margin.left + width / 2)
    .attr("y", 41)
    .attr("text-anchor", "middle")
    .attr("font-size", "33.8px")
    .attr("fill", "#000")
    .text("Montecarlo simulation of geometric brownian motion");

// X Label
svg.append("text")
    .attr("x", margin.left + width / 2)
    .attr("y", 940)
    .attr("text-anchor", "middle")
    .attr("font-size", "27.5px")
    .attr("fill", "#000")
    .text("Date");

// Y Label
svg.append("text")
    .attr("transform", "translate(37," + (margin.top + height / 2) + ") rotate(-90)")
    .attr("text-anchor", "middle")
    .attr("font-size", "27.5px")
    .attr("fill", "#000")
    .text("Value");
</script>
</body>
</html>
